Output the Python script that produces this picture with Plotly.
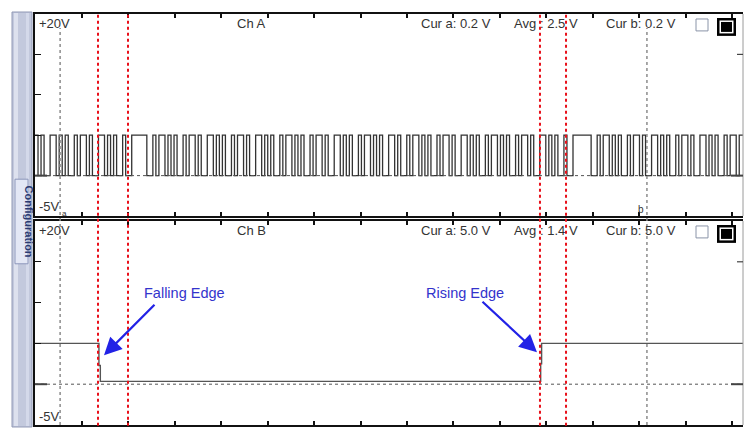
import plotly.graph_objects as go

# ---------------- data ----------------
# time axis in scope divisions
X_RANGE = [0, 15.226]
BIT_DIV = 0.065  # duration of one serial bit (divisions)

# Channel A: serial data stream (1 = high level, 0 = low level)
CH_A_BITS = (
    "1010011010" "1001011010" "0110101001" "00"
    "11111"
    "0010110101" "0010110100" "1101010010" "1101001101" "0100101101"
    "0100101101" "0011010100" "1011010100" "1101001011" "0101001011"
    "0100110101" "0010110101" "0010110100" "1101010010" "0"
    "111111"
    "0010110101" "0010110100" "1101010010" "1101001101" "0100101101"
)
CH_A_HIGH_V = 5.0
CH_A_LOW_V = 0.0

# Channel B: enable line with falling and rising edge
CH_B_T = [0, 1.375, 1.405, 1.425, 10.875, 10.895, 15.226]
CH_B_V = [5.0, 2.3, 0.35, 0.35, 2.5, 5.0, 5.0]

# cursors / markers (divisions)
RED_MARKERS = [1.355, 2.0, 10.86, 11.42]
CURSORS = [0.54, 13.16]

Y_RANGE = [-5, 20]

TOP_LABELS = ["+20V", "Ch A", "Cur a: 0.2 V", "Avg", ": 2.5 V", "Cur b: 0.2 V"]
BOT_LABELS = ["+20V", "Ch B", "Cur a: 5.0 V", "Avg", ": 1.4 V", "Cur b: 5.0 V"]

# ---------------- geometry helpers ----------------
W, H = 755, 438
L, R, T, B = 35, 12, 12, 13
PW, PH = W - L - R, H - T - B


def px(x):
    return (x - L) / PW


def py(y):
    return (H - B - y) / PH


TOP_DOM = [py(215), 1.0]
BOT_DOM = [0.0, py(220)]

# ---------------- traces ----------------
xa, ya = [], []
for i, b in enumerate(CH_A_BITS):
    xa.append(i * BIT_DIV)
    ya.append(CH_A_HIGH_V if b == "1" else CH_A_LOW_V)
xa.append(X_RANGE[1])
ya.append(ya[-1])

fig = go.Figure()
fig.add_trace(go.Scatter(x=xa, y=ya, mode="lines", line=dict(color="#333333", width=1.3, shape="hv"),
                         xaxis="x", yaxis="y", hoverinfo="skip"))
fig.add_trace(go.Scatter(x=CH_B_T, y=CH_B_V, mode="lines", line=dict(color="#555555", width=1.4, shape="hv"),
                         xaxis="x2", yaxis="y2", hoverinfo="skip"))

axis_x = dict(range=X_RANGE, showline=True, linecolor="#111", linewidth=1.5, mirror="ticks",
              ticks="inside", ticklen=4, tickwidth=1.5, tickcolor="#111", dtick=1, tick0=0,
              showticklabels=False, showgrid=False, zeroline=False, domain=[0, 1])
axis_y = dict(range=Y_RANGE, showline=True, linecolor="#111", linewidth=2, mirror=False,
              ticks="inside", ticklen=6, tickwidth=1.2, tickcolor="#111", dtick=5, tick0=0,
              showticklabels=False, showgrid=False, zeroline=False)

fig.update_layout(
    width=W, height=H, margin=dict(l=L, r=R, t=T, b=B),
    paper_bgcolor="white", plot_bgcolor="white", showlegend=False, hovermode=False,
    xaxis=dict(axis_x, anchor="y"),
    xaxis2=dict(axis_x, anchor="y2", matches="x"),
    yaxis=dict(axis_y, domain=TOP_DOM, anchor="x"),
    yaxis2=dict(axis_y, domain=BOT_DOM, anchor="x2"),
)

shapes = []
# sidebar
shapes.append(dict(type="rect", xref="paper", yref="paper", x0=px(12), x1=px(32), y0=py(10), y1=py(427),
                   fillcolor="#c3c9dd", line=dict(color="#9098b5", width=1), layer="below"))
shapes.append(dict(type="rect", xref="paper", yref="paper", x0=px(14), x1=px(18), y0=py(11), y1=py(426),
                   fillcolor="#dde1ee", line=dict(width=0), layer="below"))
shapes.append(dict(type="rect", xref="paper", yref="paper", x0=px(26), x1=px(29), y0=py(11), y1=py(426),
                   fillcolor="#d4d9ea", line=dict(width=0), layer="below"))
shapes.append(dict(type="rect", xref="paper", yref="paper", x0=px(15), x1=px(28), y0=py(178), y1=py(263),
                   fillcolor="#e3e7f5", line=dict(color="#8d97bb", width=1), layer="below"))

# right borders
for dom in (TOP_DOM, BOT_DOM):
    shapes.append(dict(type="line", xref="paper", yref="paper", x0=1, x1=1, y0=dom[0], y1=dom[1],
                       line=dict(color="#9a9a9a", width=1)))

# ground reference lines
for yr in ("y", "y2"):
    shapes.append(dict(type="line", xref="paper", yref=yr, x0=0, x1=1, y0=0, y1=0,
                       line=dict(color="#555", width=1, dash="dot")))
    shapes.append(dict(type="line", xref="paper", yref=yr, x0=0, x1=px(47), y0=0, y1=0,
                       line=dict(color="#444", width=2)))
    shapes.append(dict(type="line", xref="paper", yref=yr, x0=px(731), x1=1, y0=0, y1=0,
                       line=dict(color="#444", width=2)))
    shapes.append(dict(type="line", xref="paper", yref=yr, x0=px(737), x1=1, y0=15, y1=15,
                       line=dict(color="#444", width=1.2)))

# cursor lines
for c in CURSORS:
    shapes.append(dict(type="line", xref="x", yref="paper", x0=c, x1=c, y0=0, y1=py(26),
                       line=dict(color="#8c8c8c", width=1.5, dash="dot")))
# red markers
for m in RED_MARKERS:
    shapes.append(dict(type="line", xref="x", yref="paper", x0=m, x1=m, y0=-0.002, y1=1.004,
                       line=dict(color="#e8101a", width=2, dash="dot")))

# channel display boxes
for off in (0, 208):
    shapes.append(dict(type="rect", xref="paper", yref="paper", x0=px(696), x1=px(708), y0=py(17 + off),
                       y1=py(29 + off), fillcolor="white", line=dict(color="#8a94a8", width=1)))
    shapes.append(dict(type="rect", xref="paper", yref="paper", x0=px(717), x1=px(736), y0=py(16 + off),
                       y1=py(34 + off), fillcolor="black", line=dict(width=0)))
    shapes.append(dict(type="rect", xref="paper", yref="paper", x0=px(719.5), x1=px(733.5), y0=py(18.5 + off),
                       y1=py(31.5 + off), fillcolor="white", line=dict(width=0)))
    shapes.append(dict(type="rect", xref="paper", yref="paper", x0=px(721), x1=px(732), y0=py(20 + off),
                       y1=py(30 + off), fillcolor="black", line=dict(width=0)))

fig.update_layout(shapes=shapes)

FONT = "Liberation Sans, Arial, sans-serif"
ann = []


def label(text, x, y, size=13, color="#333", **kw):
    ann.append(dict(text=text, xref="paper", yref="paper", x=px(x), y=py(y), xanchor="left",
                    yanchor="middle", showarrow=False, font=dict(family=FONT, size=size, color=color), **kw))


lx = [37, 235, 419, 512, 538, 604]
for t, x in zip(TOP_LABELS, lx):
    label(t, x, 22)
for t, x in zip(BOT_LABELS, lx):
    label(t, x, 230)
label("-5V", 37, 205)
label("-5V", 37, 416)
label("a", 60, 212, size=8)
label("b", 636, 208, size=10)

# sidebar text
ann.append(dict(text="<b>Configuration</b>", xref="paper", yref="paper", x=px(21.5), y=py(220),
                textangle=90, showarrow=False, font=dict(family=FONT, size=11, color="#2b3a72")))

# edge annotations
label("Falling Edge", 142, 292, size=14.5, color="#3333cc")
label("Rising Edge", 424, 292, size=14.5, color="#3333cc")
ann.append(dict(text="", xref="paper", yref="paper", x=px(104), y=py(355), ax=52, ay=-52,
                showarrow=True, arrowhead=2, arrowsize=1.6, arrowwidth=2.2, arrowcolor="#2222e6"))
ann.append(dict(text="", xref="paper", yref="paper", x=px(537), y=py(352), ax=-56, ay=-52,
                showarrow=True, arrowhead=2, arrowsize=1.6, arrowwidth=2.2, arrowcolor="#2222e6"))

fig.update_layout(annotations=ann)

fig.write_html("out.html", config={"displayModeBar": False},
               post_script="document.body.style.margin='0px';document.body.style.overflow='hidden';")
